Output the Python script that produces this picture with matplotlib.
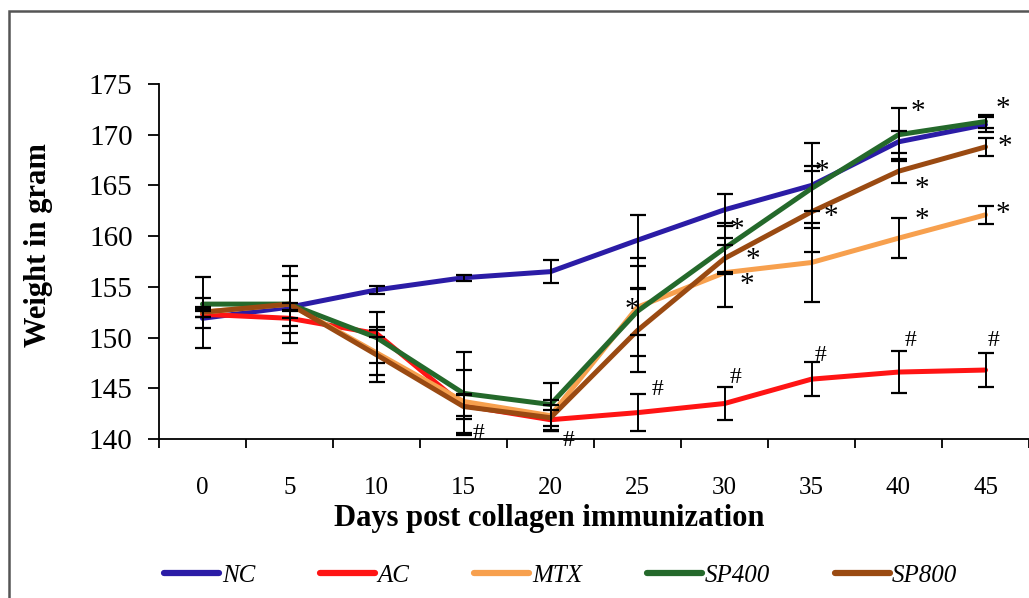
import matplotlib
matplotlib.use("Agg")
import matplotlib.pyplot as plt
from matplotlib.patches import Rectangle
import numpy as np

#### Data
days = [0, 5, 10, 15, 20, 25, 30, 35, 40, 45]
nc = [151.9, 153.0, 154.7, 155.9, 156.5, 159.6, 162.6, 165.0, 169.3, 171.0]
ac = [152.3, 151.9, 150.4, 143.3, 141.9, 142.6, 143.5, 145.9, 146.6, 146.8]
mtx = [152.5, 153.3, 148.5, 143.7, 142.3, 153.0, 156.4, 157.4, 159.8, 162.1]
sp400 = [153.3, 153.3, 150.0, 144.5, 143.4, 152.6, 158.8, 164.7, 170.0, 171.3]
sp800 = [152.5, 153.3, 148.3, 143.2, 142.1, 150.7, 157.8, 162.4, 166.4, 168.8]

nc_err = [1.0, 0.4, 0.4, 0.3, 1.1, 2.5, 1.6, 4.2, 1.1, 0.7]
ac_err = [0.3, 0.8, 0.3, 1.0, 1.0, 1.8, 1.6, 1.7, 2.1, 1.7]
mtx_err = [3.5, 3.8, 2.2, 3.1, 1.5, 4.8, 3.4, 3.9, 2.0, 0.9]
sp400_err = [0.6, 1.4, 2.5, 4.1, 2.1, 2.3, 2.5, 2.2, 2.6, 0.6]
sp800_err = [0.5, 2.8, 2.7, 1.2, 1.3, 4.1, 1.3, 4.0, 1.2, 0.9]

labels = ['NC', 'AC', 'MTX', 'SP400', 'SP800']
colors = ['#2b1ca6', '#ff1414', '#f7a04e', '#24692b', '#9a4a12']
series = [nc, ac, mtx, sp400, sp800]
errors = [nc_err, ac_err, mtx_err, sp400_err, sp800_err]

# significance marks: (text, series index, point index, dx, dy in pixels)
marks = [
    ('*', 2, 5, -6, -3),
    ('*', 3, 6, 12, 18),
    ('*', 4, 6, 28, -2),
    ('*', 2, 6, 22, -12),
    ('*', 0, 7, 10, 13),
    ('*', 4, 7, 19, -5),
    ('*', 3, 8, 19, 23),
    ('*', 4, 8, 23, -18),
    ('*', 2, 8, 23, 18),
    ('*', 3, 9, 17, 13),
    ('*', 4, 9, 19, 0),
    ('*', 2, 9, 17, 1),
    ('#', 1, 3, 15, -28),
    ('#', 1, 4, 18, -21),
    ('#', 1, 5, 20, 23),
    ('#', 1, 6, 11, 26),
    ('#', 1, 7, 9, 24),
    ('#', 1, 8, 12, 32),
    ('#', 1, 9, 8, 30),
]

plt.rcParams['font.family'] = ['Liberation Serif', 'DejaVu Serif']

fig = plt.figure(figsize=(10.29, 5.98), dpi=100)
ax = fig.add_axes([159/1029, 1-439/598, 870/1029, 355/598])

x = np.arange(len(days))

#### Lines
for s, c, lab in zip(series, colors, labels):
    ax.plot(x, s, color=c, lw=3.6, label=lab, zorder=2, solid_capstyle='round')

#### Error bars
for s, e in zip(series, errors):
    ax.errorbar(x, s, yerr=e, fmt='none', ecolor='black', elinewidth=1.4,
                capsize=6, capthick=1.6, zorder=3)

#### Marks
for txt, si, pi, dx, dy in marks:
    ax.annotate(txt, (x[pi], series[si][pi]), xytext=(dx, dy),
                textcoords='offset pixels', ha='center', va='center',
                fontsize=21 if txt == '*' else 17, zorder=4)

#### Axes
ax.set_ylim(140, 175)
ax.set_yticks(np.arange(140, 176, 5))
ax.set_xlim(-0.5, 9.5)
ax.set_xticks(x)
ax.set_xticklabels([str(d) for d in days])
ax.set_xticks(np.arange(-0.5, 10, 1), minor=True)
ax.tick_params(axis='x', which='major', length=0, pad=27, labelsize=18)
ax.tick_params(axis='x', which='minor', length=6.5, width=1.3, direction='out')
ax.tick_params(axis='y', length=8, width=1.3, direction='out', labelsize=21, pad=11)
for side in ['top', 'right']:
    ax.spines[side].set_visible(False)
for side in ['left', 'bottom']:
    ax.spines[side].set_linewidth(1.3)

ax.set_xlabel('Days post collagen immunization', fontsize=22, fontweight='bold')
ax.xaxis.set_label_coords(0.449, -0.183)
ax.set_ylabel('Weight in gram', fontsize=22, fontweight='bold')
ax.yaxis.set_label_coords(-0.122, 0.546)

#### Legend
leg = fig.legend(loc='center', bbox_to_anchor=(0.545, 0.037), ncol=5, frameon=False,
                 prop={'style': 'italic', 'size': 18}, handlelength=2.2,
                 handletextpad=0.1, columnspacing=2.6)
for h in leg.get_lines():
    h.set_linewidth(4.5)

#### Outer frame
fig.patches.append(Rectangle((9/1029, -0.1), 1.2, 1.1 - 11/598,
                             transform=fig.transFigure, fill=False,
                             edgecolor='#555555', lw=1.8))

fig.savefig('out.png', dpi=100)
